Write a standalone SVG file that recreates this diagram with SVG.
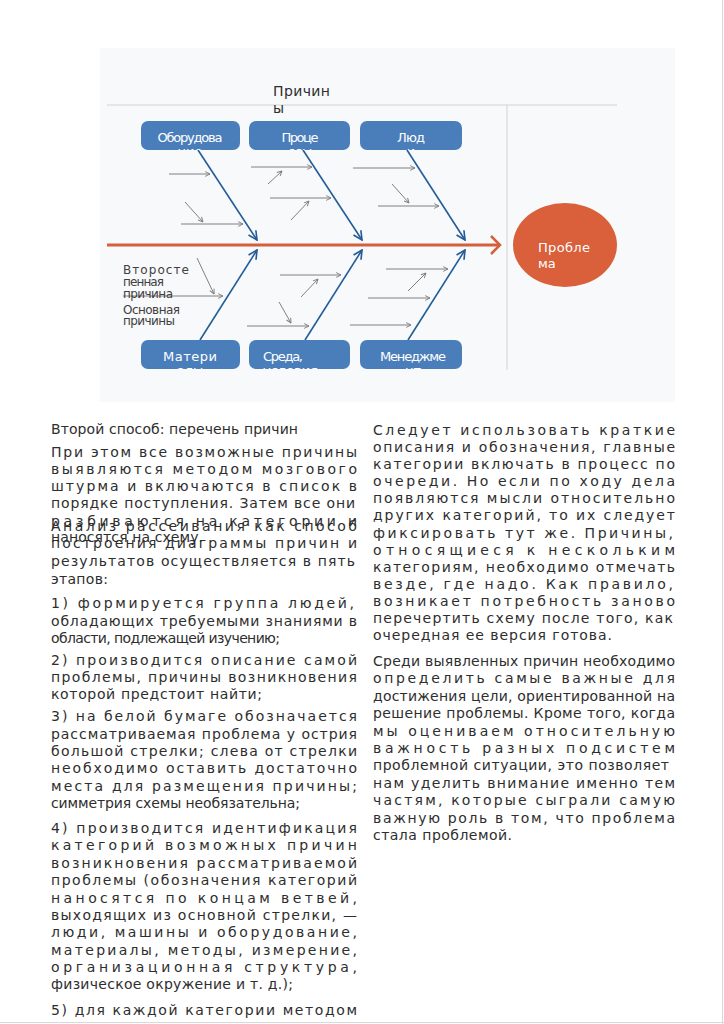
<svg xmlns="http://www.w3.org/2000/svg" width="724" height="1024" viewBox="0 0 724 1024">
<style>
.t{font-family:"DejaVu Sans","Liberation Sans",sans-serif;font-size:14px;fill:#2e2e2e}
.lb{font-family:"DejaVu Sans","Liberation Sans",sans-serif;font-size:12px;fill:#404040}
.bx{fill:#4A7EBB}
.bt{font-family:"DejaVu Sans","Liberation Sans",sans-serif;font-size:13px;fill:#ffffff}
.blue{stroke:#245C9A;stroke-width:1.6;fill:none;marker-end:url(#ab)}
.gray{stroke:#808080;stroke-width:1;fill:none;marker-end:url(#ag)}
</style>
<defs>
<marker id="ab" viewBox="0 0 10 10" refX="9" refY="5" markerWidth="11" markerHeight="11" markerUnits="userSpaceOnUse" orient="auto"><path d="M1,1 L9,5 L1,9" fill="none" stroke="#245C9A" stroke-width="1.5"/></marker>
<marker id="ag" viewBox="0 0 10 10" refX="9" refY="5" markerWidth="6" markerHeight="6" markerUnits="userSpaceOnUse" orient="auto"><path d="M1,1 L9,5 L1,9" fill="none" stroke="#808080" stroke-width="1.6"/></marker>
<clipPath id="c1"><rect x="141" y="121" width="99" height="29" rx="7"/></clipPath>
<clipPath id="c2"><rect x="249" y="121" width="101" height="29" rx="7"/></clipPath>
<clipPath id="c3"><rect x="360" y="121" width="102" height="29" rx="7"/></clipPath>
<clipPath id="c4"><rect x="141" y="340" width="99" height="29" rx="7"/></clipPath>
<clipPath id="c5"><rect x="249" y="340" width="101" height="29" rx="7"/></clipPath>
<clipPath id="c6"><rect x="360" y="340" width="102" height="29" rx="7"/></clipPath>
</defs>
<rect width="724" height="1024" fill="#ffffff"/>
<line x1="722.5" y1="0" x2="722.5" y2="1024" stroke="#d9d9d9"/>
<line x1="0" y1="1022.5" x2="724" y2="1022.5" stroke="#d9d9d9"/>
<rect x="100" y="48" width="575" height="354" fill="#F8F9FB"/>
<line x1="107" y1="105" x2="617" y2="105" stroke="#D3D3D3"/>
<line x1="507" y1="105" x2="507" y2="370" stroke="#D3D3D3"/>
<text class="t" x="273" y="96" textLength="57">Причин</text>
<text class="t" x="273" y="113">ы</text>

<g id="connectors">
<line x1="107" y1="245" x2="499" y2="245" stroke="#D45F3A" stroke-width="3"/>
<polyline points="491,236 500,245 491,254" fill="none" stroke="#D45F3A" stroke-width="2.5"/>
<line class="blue" x1="198" y1="150" x2="257" y2="240"/>
<line class="blue" x1="303" y1="150" x2="362" y2="240"/>
<line class="blue" x1="407" y1="150" x2="465" y2="240"/>
<line class="blue" x1="200" y1="340" x2="257" y2="250"/>
<line class="blue" x1="305" y1="340" x2="362" y2="250"/>
<line class="blue" x1="408" y1="340" x2="465" y2="250"/>
<line class="gray" x1="169" y1="174" x2="210" y2="174"/>
<line class="gray" x1="185" y1="202" x2="203" y2="222"/>
<line class="gray" x1="181" y1="224" x2="243" y2="224"/>
<line class="gray" x1="251" y1="167" x2="312" y2="167"/>
<line class="gray" x1="268" y1="184" x2="282" y2="171"/>
<line class="gray" x1="270" y1="198" x2="331" y2="198"/>
<line class="gray" x1="291" y1="220" x2="309" y2="201"/>
<line class="gray" x1="353" y1="168" x2="415" y2="168"/>
<line class="gray" x1="392" y1="184" x2="409" y2="203"/>
<line class="gray" x1="378" y1="206" x2="439" y2="206"/>
<line class="gray" x1="197" y1="258" x2="214" y2="294"/>
<line class="gray" x1="123" y1="296" x2="223" y2="296"/>
<line class="gray" x1="280" y1="275" x2="341" y2="275"/>
<line class="gray" x1="301" y1="297" x2="318" y2="279"/>
<line class="gray" x1="279" y1="302" x2="291" y2="323"/>
<line class="gray" x1="247" y1="326" x2="309" y2="326"/>
<line class="gray" x1="386" y1="269" x2="448" y2="269"/>
<line class="gray" x1="408" y1="291" x2="426" y2="273"/>
<line class="gray" x1="368" y1="298" x2="430" y2="298"/>
<line class="gray" x1="350" y1="325" x2="411" y2="325"/>
</g>

<g id="node-equipment">
<rect class="bx" x="141" y="121" width="99" height="29" rx="7"/>
<g clip-path="url(#c1)"><text class="bt" x="190" y="142" text-anchor="middle" textLength="65">Оборудова</text><text class="bt" x="190" y="156" text-anchor="middle">ние</text></g>
</g>
<g id="node-process">
<rect class="bx" x="249" y="121" width="101" height="29" rx="7"/>
<g clip-path="url(#c2)"><text class="bt" x="300" y="142" text-anchor="middle" textLength="37">Проце</text><text class="bt" x="300" y="156" text-anchor="middle">ссы</text></g>
</g>
<g id="node-people">
<rect class="bx" x="360" y="121" width="102" height="29" rx="7"/>
<g clip-path="url(#c3)"><text class="bt" x="411" y="142" text-anchor="middle" textLength="28">Люд</text><text class="bt" x="411" y="156" text-anchor="middle">и</text></g>
</g>
<g id="node-materials">
<rect class="bx" x="141" y="340" width="99" height="29" rx="7"/>
<g clip-path="url(#c4)"><text class="bt" x="190" y="361" text-anchor="middle" textLength="54">Матери</text><text class="bt" x="190" y="375" text-anchor="middle">алы</text></g>
</g>
<g id="node-environment">
<rect class="bx" x="249" y="340" width="101" height="29" rx="7"/>
<g clip-path="url(#c5)"><text class="bt" x="263" y="361" textLength="40">Среда,</text><text class="bt" x="263" y="375">условия</text></g>
</g>
<g id="node-management">
<rect class="bx" x="360" y="340" width="102" height="29" rx="7"/>
<g clip-path="url(#c6)"><text class="bt" x="413" y="361" text-anchor="middle" textLength="66">Менеджме</text><text class="bt" x="413" y="375" text-anchor="middle">нт</text></g>
</g>
<g id="node-problem">
<ellipse cx="565" cy="245" rx="52" ry="42" fill="#D9603B"/>
<text class="bt" x="538" y="252" font-size="14" textLength="52">Пробле</text>
<text class="bt" x="538" y="268" font-size="14">ма</text>
</g>
<g id="labels">
<text class="lb" x="123" y="274" textLength="66">Второсте</text>
<text class="lb" x="123" y="286" textLength="41">пенная</text>
<text class="lb" x="123" y="298" textLength="50">причина</text>
<text class="lb" x="123" y="314" textLength="57">Основная</text>
<text class="lb" x="123" y="325" textLength="52">причины</text>
</g>

<g id="left-column">
<text class="t" x="51" y="434" textLength="247">Второй способ: перечень причин</text>
<text class="t" x="51" y="457" textLength="306">При этом все возможные причины</text>
<text class="t" x="51" y="474" textLength="306">выявляются методом мозгового</text>
<text class="t" x="51" y="491" textLength="306">штурма и включаются в список в</text>
<text class="t" x="51" y="508" textLength="304">порядке поступления. Затем все они</text>
<text class="t" x="51" y="526" textLength="306">разбиваются на категории и</text>
<text class="t" x="51" y="542" font-size="12" textLength="152">наносятся на схему.</text>
<text class="t" x="51" y="531" textLength="306">Анализ рассеивания как способ</text>
<text class="t" x="51" y="548" textLength="306">построения диаграммы причин и</text>
<text class="t" x="51" y="566" textLength="304">результатов осуществляется в пять</text>
<text class="t" x="51" y="584" textLength="57">этапов:</text>
<text class="t" x="51" y="608" textLength="303">1) формируется группа людей,</text>
<text class="t" x="51" y="626" textLength="306">обладающих требуемыми знаниями в</text>
<text class="t" x="51" y="643" textLength="229">области, подлежащей изучению;</text>
<text class="t" x="51" y="665" textLength="306">2) производится описание самой</text>
<text class="t" x="51" y="682" textLength="306">проблемы, причины возникновения</text>
<text class="t" x="51" y="699" textLength="211">которой предстоит найти;</text>
<text class="t" x="51" y="721" textLength="306">3) на белой бумаге обозначается</text>
<text class="t" x="51" y="739" textLength="306">рассматриваемая проблема у острия</text>
<text class="t" x="51" y="756" textLength="306">большой стрелки; слева от стрелки</text>
<text class="t" x="51" y="773" textLength="306">необходимо оставить достаточно</text>
<text class="t" x="51" y="791" textLength="306">места для размещения причины;</text>
<text class="t" x="51" y="808" textLength="249">симметрия схемы необязательна;</text>
<text class="t" x="51" y="833" textLength="306">4) производится идентификация</text>
<text class="t" x="51" y="850" textLength="306">категорий возможных причин</text>
<text class="t" x="51" y="868" textLength="306">возникновения рассматриваемой</text>
<text class="t" x="51" y="885" textLength="306">проблемы (обозначения категорий</text>
<text class="t" x="51" y="903" textLength="306">наносятся по концам ветвей,</text>
<text class="t" x="51" y="920" textLength="306">выходящих из основной стрелки, —</text>
<text class="t" x="51" y="937" textLength="306">люди, машины и оборудование,</text>
<text class="t" x="51" y="955" textLength="306">материалы, методы, измерение,</text>
<text class="t" x="51" y="972" textLength="306">организационная структура,</text>
<text class="t" x="51" y="989" textLength="242">физическое окружение  и т. д.);</text>
<text class="t" x="51" y="1015" textLength="306">5) для каждой категории методом</text>
</g>

<g id="right-column">
<text class="t" x="373" y="435" textLength="302">Следует использовать краткие</text>
<text class="t" x="373" y="452" textLength="302">описания и обозначения, главные</text>
<text class="t" x="373" y="469" textLength="302">категории включать в процесс по</text>
<text class="t" x="373" y="486" textLength="302">очереди. Но если по ходу дела</text>
<text class="t" x="373" y="503" textLength="302">появляются мысли относительно</text>
<text class="t" x="373" y="520" textLength="302">других категорий, то их следует</text>
<text class="t" x="373" y="538" textLength="300">фиксировать тут же. Причины,</text>
<text class="t" x="373" y="555" textLength="302">относящиеся к нескольким</text>
<text class="t" x="373" y="572" textLength="302">категориям, необходимо отмечать</text>
<text class="t" x="373" y="589" textLength="300">везде, где надо. Как правило,</text>
<text class="t" x="373" y="606" textLength="302">возникает потребность заново</text>
<text class="t" x="373" y="623" textLength="300">перечертить схему после того, как</text>
<text class="t" x="373" y="640" textLength="239">очередная ее версия готова.</text>
<text class="t" x="373" y="666" textLength="302">Среди выявленных причин необходимо</text>
<text class="t" x="373" y="683" textLength="302">определить самые важные для</text>
<text class="t" x="373" y="701" textLength="302">достижения цели, ориентированной на</text>
<text class="t" x="373" y="718" textLength="302">решение проблемы. Кроме того, когда</text>
<text class="t" x="373" y="736" textLength="302">мы оцениваем относительную</text>
<text class="t" x="373" y="753" textLength="302">важность разных подсистем</text>
<text class="t" x="373" y="770" textLength="296">проблемной ситуации, это позволяет</text>
<text class="t" x="373" y="788" textLength="302">нам уделить внимание именно тем</text>
<text class="t" x="373" y="805" textLength="302">частям, которые сыграли самую</text>
<text class="t" x="373" y="823" textLength="302">важную роль в том, что проблема</text>
<text class="t" x="373" y="840" textLength="139">стала проблемой.</text>
</g>
</svg>
